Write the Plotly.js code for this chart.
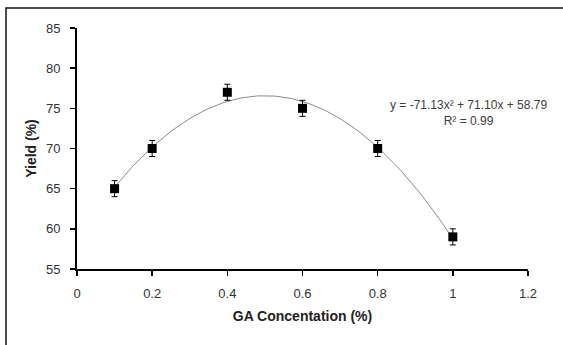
<!DOCTYPE html>
<html><head><meta charset="utf-8">
<script src="https://cdn.plot.ly/plotly-3.0.1.min.js"></script>
<style>html,body{margin:0;padding:0;background:#fff;}#chart{width:563px;height:345px;}</style>
</head><body><div id="chart"></div>
<script>
const gaConc = [0.1, 0.2, 0.4, 0.6, 0.8, 1.0];
const yieldPct = [65, 70, 77, 75, 70, 59];
const yieldErr = [1, 1, 1, 1, 1, 1];
const xTicks = [0, 0.2, 0.4, 0.6, 0.8, 1, 1.2];
const yTicks = [55, 60, 65, 70, 75, 80, 85];
const eqText = 'y = -71.13x² + 71.10x + 58.79<br>R² = 0.99';

// least-squares quadratic fit (trendline) computed from the data
function quadFit(xs, ys) {
  let S = [0,0,0,0,0], T = [0,0,0];
  for (let i = 0; i < xs.length; i++) {
    let p = 1;
    for (let k = 0; k < 5; k++) { S[k] += p; if (k < 3) T[k] += p * ys[i]; p *= xs[i]; }
  }
  const A = [[S[0],S[1],S[2],T[0]],[S[1],S[2],S[3],T[1]],[S[2],S[3],S[4],T[2]]];
  for (let c = 0; c < 3; c++) {
    for (let r = c + 1; r < 3; r++) {
      const f = A[r][c] / A[c][c];
      for (let k = c; k < 4; k++) A[r][k] -= f * A[c][k];
    }
  }
  const b = [0,0,0];
  for (let r = 2; r >= 0; r--) {
    let s = A[r][3];
    for (let k = r + 1; k < 3; k++) s -= A[r][k] * b[k];
    b[r] = s / A[r][r];
  }
  return b; // c0, c1, c2
}
const coef = quadFit(gaConc, yieldPct);
const fitX = [], fitY = [];
const xmin = Math.min(...gaConc), xmax = Math.max(...gaConc);
for (let i = 0; i <= 100; i++) {
  const x = xmin + (xmax - xmin) * i / 100;
  fitX.push(x); fitY.push(coef[0] + coef[1] * x + coef[2] * x * x);
}

const traces = [
  {x: fitX, y: fitY, mode: 'lines', line: {color: '#8c8c8c', width: 1}, hoverinfo: 'skip', showlegend: false},
  {x: gaConc, y: yieldPct, mode: 'markers', showlegend: false,
   marker: {symbol: 'square', size: 9, color: '#000'},
   error_y: {type: 'data', array: yieldErr, visible: true, color: '#000', thickness: 1, width: 3}}
];

const L = 77, R = 528, T = 28, B = 269;
const layout = {
  width: 563, height: 345,
  margin: {l: L, r: 563 - R, t: T, b: 345 - B},
  paper_bgcolor: '#fff', plot_bgcolor: '#fff',
  font: {family: 'Liberation Sans, Arial, sans-serif', color: '#333'},
  xaxis: {range: [0, 1.2], tickvals: xTicks, ticktext: xTicks.map(String),
    showgrid: false, zeroline: false, showline: true, linecolor: '#000', linewidth: 2,
    ticks: 'outside', ticklen: 5, tickwidth: 1.5, tickcolor: '#000',
    ticklabelstandoff: 6,
    tickfont: {size: 13, color: '#333'},
    title: {text: '<b>GA Concentation (%)</b>', font: {size: 14, color: '#222'}, standoff: 12}},
  yaxis: {range: [55, 85], tickvals: yTicks, ticktext: yTicks.map(String),
    showgrid: false, zeroline: false, showline: true, linecolor: '#000', linewidth: 2,
    ticks: 'outside', ticklen: 5, tickwidth: 1.5, tickcolor: '#000',
    ticklabelstandoff: 7,
    tickfont: {size: 13, color: '#333'},
    title: {text: '<b>Yield (%)</b>', font: {size: 14, color: '#222'}, standoff: 6}},
  shapes: [{type: 'rect', xref: 'paper', yref: 'paper',
    x0: (6 - L) / (R - L), x1: (600 - L) / (R - L),
    y0: (B - 400) / (B - T), y1: (B - 8) / (B - T),
    line: {color: '#111', width: 1.5}, fillcolor: 'rgba(0,0,0,0)', layer: 'below'}],
  annotations: [{xref: 'paper', yref: 'paper',
    x: (468 - L) / (R - L), y: (B - 113) / (B - T), xanchor: 'center', yanchor: 'middle',
    text: eqText, showarrow: false, align: 'center',
    font: {family: 'Liberation Sans, Arial, sans-serif', size: 12, color: '#404040'}}]
};
Plotly.newPlot('chart', traces, layout, {displayModeBar: false, staticPlot: true});
</script></body></html>
